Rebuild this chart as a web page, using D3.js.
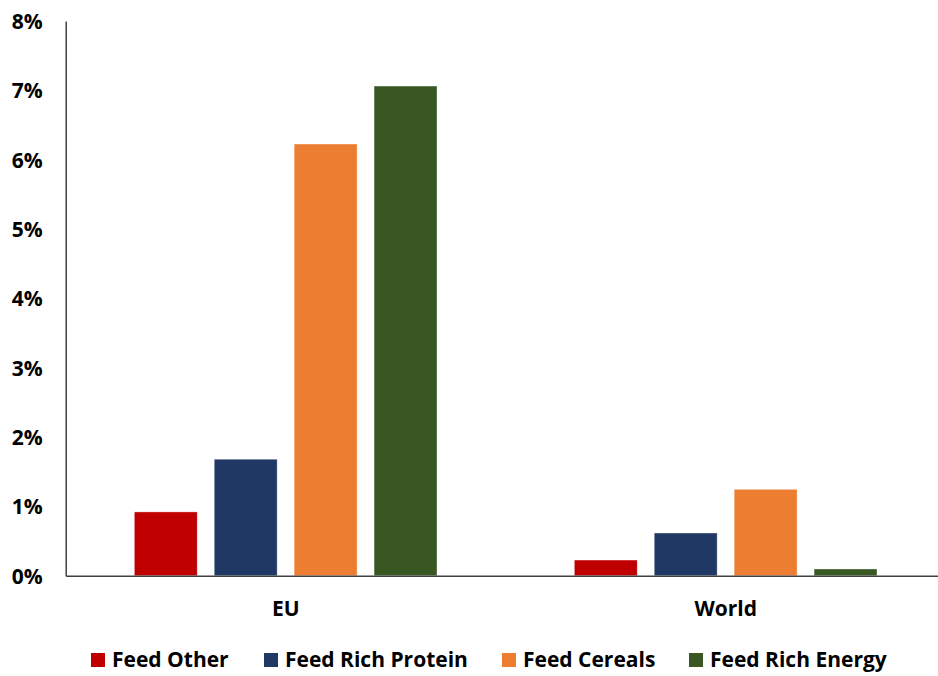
<!DOCTYPE html>
<html>
<head>
<meta charset="utf-8">
<script src="https://cdn.jsdelivr.net/npm/d3@7"></script>
<style>
  html, body { margin: 0; padding: 0; background: #fff; }
  svg { display: block; }
  text { font-family: "Open Sans", "Liberation Sans", sans-serif; font-weight: bold; fill: #000; }
</style>
</head>
<body>
<svg id="chart" width="938" height="676"></svg>
<script>
const categories = ["EU", "World"];
const seriesNames = ["Feed Other", "Feed Rich Protein", "Feed Cereals", "Feed Rich Energy"];
const seriesColors = ["#C00000", "#203864", "#ED7D31", "#385723"];
const feedOther = [0.92, 0.226];
const feedRichProtein = [1.68, 0.616];
const feedCereals = [6.226, 1.246];
const feedRichEnergy = [7.062, 0.097];
const yTicks = [0, 1, 2, 3, 4, 5, 6, 7, 8];

const seriesValues = [feedOther, feedRichProtein, feedCereals, feedRichEnergy];

const svg = d3.select("#chart");
const plotLeft = 65.7, plotW = 880, plotTop = 21, plotBottom = 575.7;
const fontSize = 21;

const x0 = d3.scaleBand().domain(categories).range([plotLeft, plotLeft + plotW]).paddingInner(0).paddingOuter(0);
const x1 = d3.scaleBand().domain(seriesNames).range([68.6, 371.3]).paddingInner(0.2125).paddingOuter(0);
const y = d3.scaleLinear().domain([0, 8]).range([plotBottom, plotTop]);

// bars
const groups = svg.append("g").selectAll("g")
  .data(categories)
  .join("g")
  .attr("transform", d => `translate(${x0(d)},0)`);

groups.selectAll("rect")
  .data((c, ci) => seriesNames.map((s, si) => ({ s, si, v: seriesValues[si][ci] })))
  .join("rect")
  .attr("x", d => x1(d.s))
  .attr("width", x1.bandwidth())
  .attr("y", d => y(d.v))
  .attr("height", d => y(0) - y(d.v))
  .attr("fill", d => seriesColors[d.si])
  .attr("stroke", "#ffffff")
  .attr("stroke-opacity", 0.5)
  .attr("stroke-width", 0.75);

// y axis
const yAxis = d3.axisLeft(y)
  .tickValues(yTicks)
  .tickFormat(d => d + "%")
  .tickSizeInner(0)
  .tickSizeOuter(0)
  .tickPadding(23);
const ya = svg.append("g").attr("transform", `translate(${plotLeft},0)`).call(yAxis);
ya.select(".domain").attr("stroke", "#404040").attr("stroke-width", 1.5);
ya.selectAll("text").attr("font-size", fontSize).attr("font-family", "Open Sans").attr("font-weight", "bold").attr("fill", "#000").attr("dy", "0.35em");

// x axis baseline
const xAxis = d3.axisBottom(x0).tickSizeInner(0).tickSizeOuter(0).tickPadding(25);
const xa = svg.append("g").attr("transform", `translate(0,${y(0)})`).call(xAxis);
xa.select(".domain").attr("stroke", "#404040").attr("stroke-width", 1.5);
xa.selectAll("text").attr("font-size", fontSize).attr("font-family", "Open Sans").attr("font-weight", "bold").attr("fill", "#000");

// legend
const legendX = [91, 264, 502, 689];
const lg = svg.append("g").selectAll("g")
  .data(seriesNames)
  .join("g")
  .attr("transform", (d, i) => `translate(${legendX[i]},653)`);
lg.append("rect").attr("width", 14).attr("height", 14).attr("fill", (d, i) => seriesColors[i]);
lg.append("text").attr("x", 21).attr("y", 13.5).attr("font-size", fontSize).text(d => d);
</script>
</body>
</html>
